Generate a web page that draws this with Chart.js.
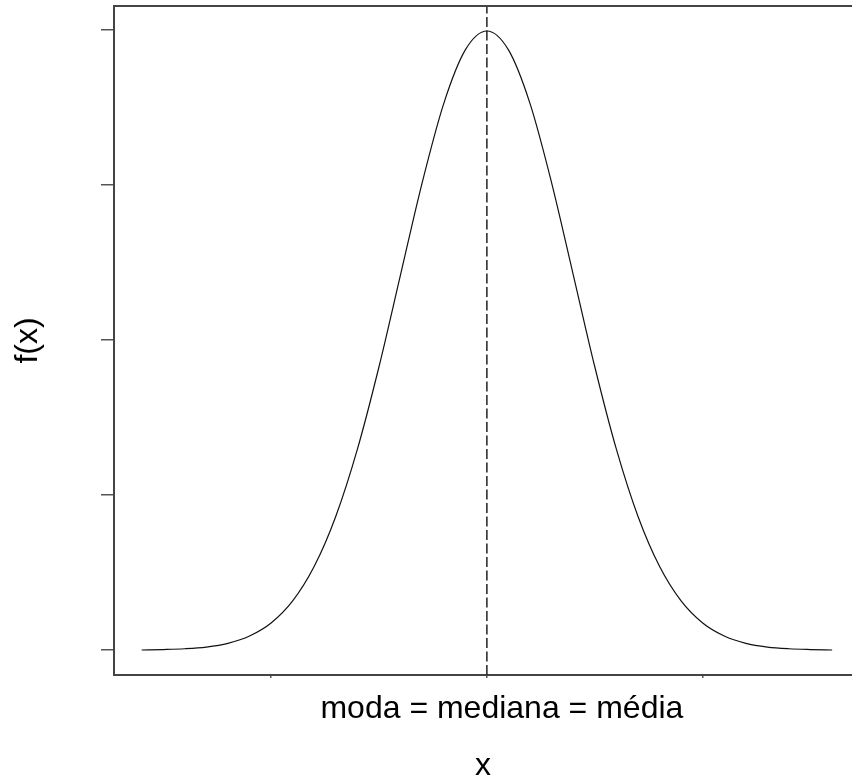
<!DOCTYPE html>
<html>
<head>
<meta charset="utf-8">
<script src="https://cdn.jsdelivr.net/npm/chart.js@4.4.0/dist/chart.umd.min.js"></script>
<style>
html,body{margin:0;padding:0;background:#fff;overflow:hidden;}
#wrap{width:852px;height:779px;position:relative;}
</style>
</head>
<body>
<div id="wrap"><canvas id="c"></canvas></div>
<script>
// Curve (x in standard-deviation units, f(x) density)
const xValues = [-4.0,-3.75,-3.5,-3.25,-3.0,-2.75,-2.5,-2.25,-2.0,-1.75,-1.5,-1.25,-1.0,-0.75,-0.5,-0.25,0.0,
                 0.25,0.5,0.75,1.0,1.25,1.5,1.75,2.0,2.25,2.5,2.75,3.0,3.25,3.5,3.75,4.0];
const fValues = [0.0001,0.0004,0.0009,0.0020,0.0044,0.0091,0.0175,0.0317,0.0540,0.0863,0.1295,0.1826,0.2420,0.3011,0.3521,0.3867,0.3989,
                 0.3867,0.3521,0.3011,0.2420,0.1826,0.1295,0.0863,0.0540,0.0317,0.0175,0.0091,0.0044,0.0020,0.0009,0.0004,0.0001];
const centerX = 0;
const xTicks = [-2.5, 0, 2.5];
const yTicks = [0, 0.1, 0.2, 0.3, 0.4];
const centerLabel = 'moda = mediana = média';
const xTitle = 'x';
const yTitle = 'f(x)';
const xRange = [-4.32, 4.23];
const yRange = [-0.016, 0.415];

const curve = xValues.map((x, i) => ({x: x, y: fValues[i]}));
const vline = [{x: centerX, y: yRange[0]}, {x: centerX, y: yRange[1]}];

const topBorder = {
  id: 'topBorder',
  afterDraw(chart) {
    const {ctx, chartArea} = chart;
    ctx.save();
    ctx.strokeStyle = '#444';
    ctx.lineWidth = 2;
    ctx.beginPath();
    ctx.moveTo(chartArea.left - 1, chartArea.top);
    ctx.lineTo(chartArea.right, chartArea.top);
    ctx.stroke();
    ctx.restore();
  }
};

const font = {family: 'Liberation Sans, Arial, sans-serif', size: 32};

new Chart(document.getElementById('c'), {
  type: 'line',
  data: {
    datasets: [
      {data: curve, borderColor: '#111', borderWidth: 1.2, pointRadius: 0, cubicInterpolationMode: 'monotone', fill: false},
      {data: vline, borderColor: '#222', borderWidth: 1.5, borderDash: [10, 3.5], pointRadius: 0, fill: false}
    ]
  },
  options: {
    responsive: true,
    maintainAspectRatio: false,
    animation: false,
    layout: {padding: {top: 6, right: 0, left: 0, bottom: 0}},
    plugins: {legend: {display: false}, tooltip: {enabled: false}},
    scales: {
      x: {
        type: 'linear',
        min: xRange[0], max: xRange[1],
        afterBuildTicks(s) { s.ticks = xTicks.map(v => ({value: v})); },
        afterFit(s) { s.height = 104; },
        grid: {display: true, drawOnChartArea: false, drawTicks: true, tickLength: 3, color: '#555', lineWidth: 1.5},
        border: {display: true, color: '#444', width: 2},
        ticks: {
          maxRotation: 0, autoSkip: false, padding: 12, labelOffset: 15, color: '#000', font: font,
          callback: v => (v === centerX ? centerLabel : '')
        },
        title: {display: true, text: xTitle, color: '#000', font: font, padding: {top: 0, bottom: -6}}
      },
      y: {
        type: 'linear',
        min: yRange[0], max: yRange[1],
        afterBuildTicks(s) { s.ticks = yTicks.map(v => ({value: v})); },
        afterFit(s) { s.width = 114; },
        grid: {display: true, drawOnChartArea: false, drawTicks: true, tickLength: 13, color: '#555', lineWidth: 1.5},
        border: {display: true, color: '#444', width: 2},
        ticks: {callback: () => '', padding: 0, font: {size: 1}},
        title: {display: true, text: yTitle, color: '#000', font: font, padding: {top: 9, bottom: 0}}
      }
    }
  },
  plugins: [topBorder]
});
</script>
</body>
</html>
